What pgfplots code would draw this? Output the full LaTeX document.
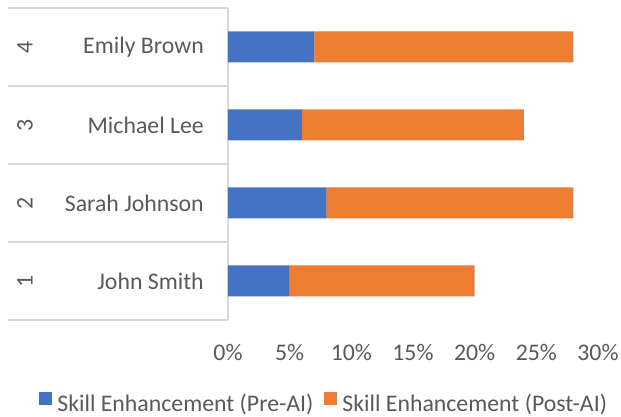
\documentclass[border=0pt]{standalone}
\usepackage{fontspec}
\setmainfont{Carlito}
\usepackage{pgfplots}
\pgfplotsset{compat=1.18}
\definecolor{xlblue}{HTML}{4472C4}
\definecolor{xlorange}{HTML}{ED7D31}
\definecolor{xltext}{HTML}{595959}
\definecolor{xlgrid}{HTML}{D9D9D9}
\newcommand\lf{\fontsize{23.8}{28}\selectfont}
\begin{document}
\begin{tikzpicture}
\path[use as bounding box] (-228pt,-97pt) rectangle (393pt,320pt);
\begin{axis}[
  at={(0pt,0pt)}, anchor=south west,
  scale only axis, width=370pt, height=312pt,
  xbar stacked, bar width=31pt,
  xmin=0, xmax=30, ymin=0.5, ymax=4.5,
  clip=false,
  xtick={0,5,10,15,20,25,30},
  xticklabels={0\%,5\%,10\%,15\%,20\%,25\%,30\%},
  ytick={1,2,3,4},
  yticklabels={John Smith,Sarah Johnson,Michael Lee,Emily Brown},
  axis y line*=left, axis x line*=bottom,
  x axis line style={draw=none},
  y axis line style={draw=xlgrid, line width=1.2pt, -},
  major tick length=0pt,
  tick style={draw=none},
  ticklabel style={font=\lf, text=xltext},
  xticklabel style={anchor=north, inner sep=0pt, yshift=-24pt},
  yticklabel style={anchor=east, inner sep=0pt, xshift=-24pt},
  legend style={at={(0.26,-0.269)}, anchor=center, draw=none, fill=none,
    font=\lf, text=xltext, inner sep=0pt, legend columns=2,
    nodes={inner sep=2.5pt},
    /tikz/every even column/.append style={column sep=8pt}},
  legend image code/.code={\fill[#1] (0pt,-1pt) rectangle (13pt,12pt); \path (16pt,0pt);},
]
\addplot[fill=xlblue, draw=none] coordinates {(5,1) (8,2) (6,3) (7,4)};
\addplot[fill=xlorange, draw=none] coordinates {(15,1) (20,2) (18,3) (21,4)};
\legend{Skill Enhancement (Pre-AI), Skill Enhancement (Post-AI)}
\pgfplotsinvokeforeach{0.5,1.5,2.5,3.5,4.5}{
  \draw[xlgrid, line width=1.2pt] ([xshift=-220pt]axis cs:0,#1) -- (axis cs:0,#1);
}
\pgfplotsinvokeforeach{1,2,3,4}{
  \node[rotate=90, text=xltext, font=\lf, inner sep=0pt] at ([xshift=-203pt]axis cs:0,#1) {#1};
}
\end{axis}
\end{tikzpicture}
\end{document}
